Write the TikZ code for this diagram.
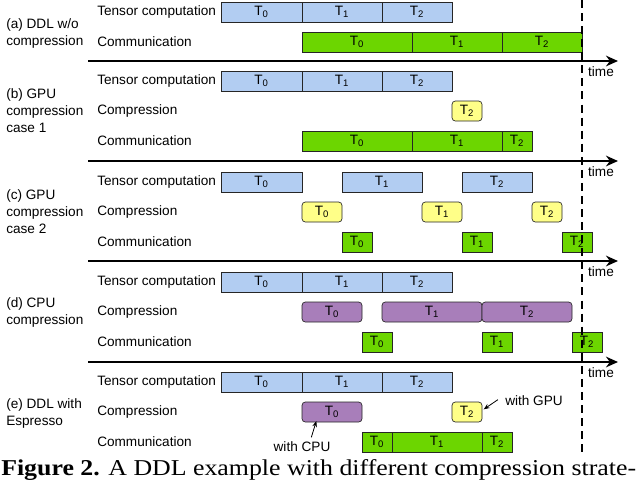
\documentclass[tikz,border=0pt]{standalone}
\usepackage{fontspec}
\setmainfont{Liberation Sans}
\newfontfamily\capfont{Liberation Serif}
\usepackage{tikz}
\usetikzlibrary{arrows.meta}

\definecolor{tensorblue}{HTML}{B2CDF2}
\definecolor{commgreen}{HTML}{6CD600}
\definecolor{gpuyellow}{HTML}{FFFF88}
\definecolor{cpupurple}{HTML}{A87EBA}

\begin{document}
\begin{tikzpicture}[x=0.75pt,y=0.75pt,yscale=-1,xscale=1,
  every node/.style={font=\fontsize{10.2}{12.75}\selectfont},
  slot/.style={draw=black!85,line width=0.5pt,minimum height=15pt,inner sep=0pt,minimum width=#1*0.75pt},
  tensorbox/.style={slot=#1,fill=tensorblue},
  commbox/.style={slot=#1,fill=commgreen},
  gpubox/.style={slot=#1,fill=gpuyellow,rounded corners=2.5pt},
  cpubox/.style={slot=#1,fill=cpupurple,rounded corners=2.5pt},
  rowlbl/.style={anchor=west,inner sep=0pt},
  grplbl/.style={anchor=west,align=left,inner sep=0pt},
  timeaxis/.style={line width=1.5pt,-{Stealth[length=9pt,width=8pt]}},
  ptr/.style={line width=0.6pt,-{Stealth[length=4.5pt,width=3.5pt]}}]
\useasboundingbox (0,0) rectangle (640,487);

% Text Node
\draw (6,33.5) node[grplbl] (a-lbl) {(a) DDL w/o\\compression};
% Text Node
\draw (6,111) node[grplbl] (b-lbl) {(b) GPU\\compression\\case 1};
% Text Node
\draw (6,212) node[grplbl] (c-lbl) {(c) GPU\\compression\\case 2};
% Text Node
\draw (6,312) node[grplbl] (d-lbl) {(d) CPU\\compression};
% Text Node
\draw (6,413) node[grplbl] (e-lbl) {(e) DDL with\\Espresso};

% Text Node
\draw (97,12) node[rowlbl] (a-tl) {Tensor computation};
% Text Node
\draw (97,42) node[rowlbl] (a-ml) {Communication};
% Text Node
\draw (97,81) node[rowlbl] (b-tl) {Tensor computation};
% Text Node
\draw (97,111) node[rowlbl] (b-cl) {Compression};
% Text Node
\draw (97,141) node[rowlbl] (b-ml) {Communication};
% Text Node
\draw (97,182) node[rowlbl] (c-tl) {Tensor computation};
% Text Node
\draw (97,212) node[rowlbl] (c-cl) {Compression};
% Text Node
\draw (97,242) node[rowlbl] (c-ml) {Communication};
% Text Node
\draw (97,282) node[rowlbl] (d-tl) {Tensor computation};
% Text Node
\draw (97,312) node[rowlbl] (d-cl) {Compression};
% Text Node
\draw (97,342) node[rowlbl] (d-ml) {Communication};
% Text Node
\draw (97,382) node[rowlbl] (e-tl) {Tensor computation};
% Text Node
\draw (97,412) node[rowlbl] (e-cl) {Compression};
% Text Node
\draw (97,442) node[rowlbl] (e-ml) {Communication};

% (a) DDL w/o compression
\draw (261.5,12) node[tensorbox=81] (a-t0) {T\textsubscript{0}};
\draw (342,12) node[tensorbox=80] (a-t1) {T\textsubscript{1}};
\draw (417,12) node[tensorbox=70] (a-t2) {T\textsubscript{2}};
\draw (357,42) node[commbox=110] (a-m0) {T\textsubscript{0}};
\draw (457,42) node[commbox=90] (a-m1) {T\textsubscript{1}};
\draw (542,42) node[commbox=80] (a-m2) {T\textsubscript{2}};

% (b) GPU compression case 1
\draw (261.5,81) node[tensorbox=81] (b-t0) {T\textsubscript{0}};
\draw (342,81) node[tensorbox=80] (b-t1) {T\textsubscript{1}};
\draw (417,81) node[tensorbox=70] (b-t2) {T\textsubscript{2}};
\draw (467,111) node[gpubox=30] (b-g2) {T\textsubscript{2}};
\draw (357,141) node[commbox=110] (b-m0) {T\textsubscript{0}};
\draw (457,141) node[commbox=90] (b-m1) {T\textsubscript{1}};
\draw (517,141) node[commbox=30] (b-m2) {T\textsubscript{2}};

% (c) GPU compression case 2
\draw (261.5,182) node[tensorbox=81] (c-t0) {T\textsubscript{0}};
\draw (382,182) node[tensorbox=80] (c-t1) {T\textsubscript{1}};
\draw (497,182) node[tensorbox=70] (c-t2) {T\textsubscript{2}};
\draw (322,212) node[gpubox=40] (c-g0) {T\textsubscript{0}};
\draw (442,212) node[gpubox=40] (c-g1) {T\textsubscript{1}};
\draw (547,212) node[gpubox=30] (c-g2) {T\textsubscript{2}};
\draw (357,242) node[commbox=30] (c-m0) {T\textsubscript{0}};
\draw (477,242) node[commbox=30] (c-m1) {T\textsubscript{1}};
\draw (577,242) node[commbox=30] (c-m2) {T\textsubscript{2}};

% (d) CPU compression
\draw (261.5,282) node[tensorbox=81] (d-t0) {T\textsubscript{0}};
\draw (342,282) node[tensorbox=80] (d-t1) {T\textsubscript{1}};
\draw (417,282) node[tensorbox=70] (d-t2) {T\textsubscript{2}};
\draw (332,312) node[cpubox=60] (d-c0) {T\textsubscript{0}};
\draw (432,312) node[cpubox=100] (d-c1) {T\textsubscript{1}};
\draw (527,312) node[cpubox=90] (d-c2) {T\textsubscript{2}};
\draw (377,342) node[commbox=30] (d-m0) {T\textsubscript{0}};
\draw (497,342) node[commbox=30] (d-m1) {T\textsubscript{1}};
\draw (587,342) node[commbox=30] (d-m2) {T\textsubscript{2}};

% (e) DDL with Espresso
\draw (261.5,382) node[tensorbox=81] (e-t0) {T\textsubscript{0}};
\draw (342,382) node[tensorbox=80] (e-t1) {T\textsubscript{1}};
\draw (417,382) node[tensorbox=70] (e-t2) {T\textsubscript{2}};
\draw (332,412) node[cpubox=60] (e-c0) {T\textsubscript{0}};
\draw (467,412) node[gpubox=30] (e-g2) {T\textsubscript{2}};
\draw (377,442) node[commbox=30] (e-m0) {T\textsubscript{0}};
\draw (437,442) node[commbox=90] (e-m1) {T\textsubscript{1}};
\draw (497,442) node[commbox=30] (e-m2) {T\textsubscript{2}};

% Text Node
\draw (534,401) node (gpu-lbl) {with GPU};
% Text Node
\draw (302,447) node (cpu-lbl) {with CPU};
% Connection
\draw[ptr] ([xshift=-2pt,yshift=-1pt]gpu-lbl.west) -- ([xshift=1pt,yshift=-2pt]e-g2.east);
% Connection
\draw[ptr] ([xshift=7pt]cpu-lbl.north) -- ([xshift=11pt,yshift=-1pt]e-c0.south west);

% time axes
\foreach \n/\y in {a/61,b/161,c/261,d/362} {
  \coordinate (\n-ax0) at (88,\y);
  \coordinate (\n-ax1) at (618,\y);
  \draw[timeaxis] (\n-ax0) -- (\n-ax1);
  \draw (601,\y+11) node (\n-time) {time};
}

% deadline
\coordinate (dl-top) at (582,0);
\coordinate (dl-bot) at (582,452);
\draw[line width=1.4pt,dash pattern=on 6pt off 3.8pt] (dl-top) -- (dl-bot);

% Text Node
\draw (1,475) node[anchor=base west,inner sep=0pt,font=\capfont\fontsize{17}{20}\selectfont] (cap) {\scalebox{1.14}[1]{\textbf{Figure 2.} A DDL example with different compression strate-}};

\end{tikzpicture}
\end{document}
